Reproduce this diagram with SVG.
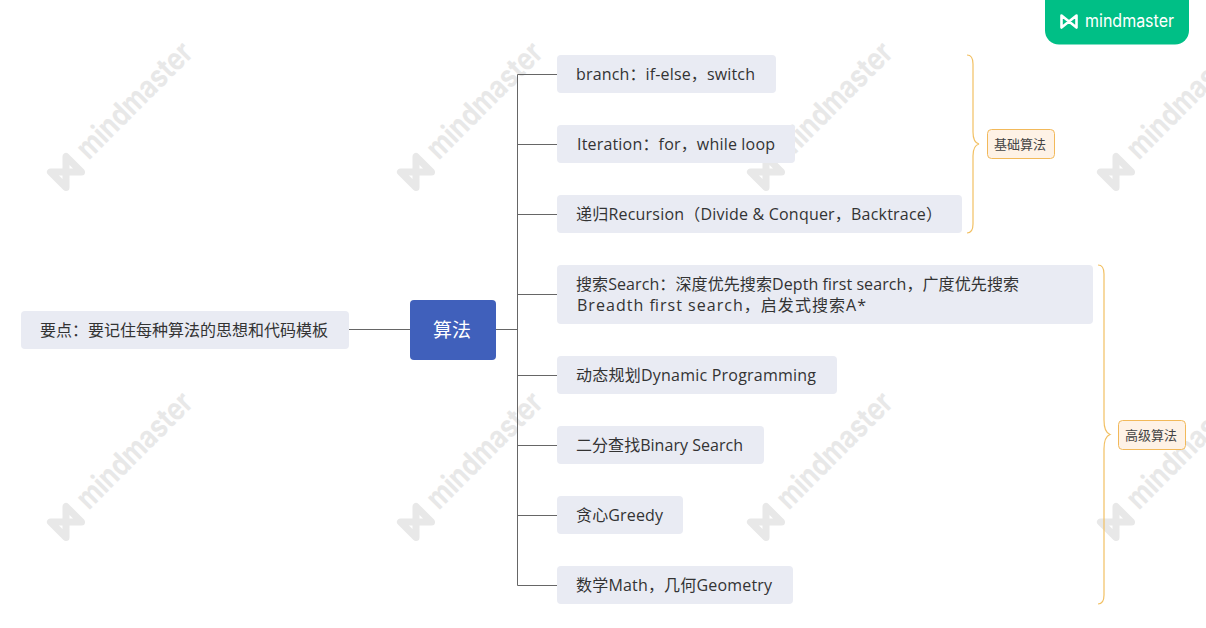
<svg xmlns="http://www.w3.org/2000/svg" width="1206" height="628" viewBox="0 0 1206 628">
<style>
.n{fill:#e9ebf3}
.t{font-family:"Open Sans","Noto Sans CJK SC","Liberation Sans",sans-serif;font-size:16px;fill:#333}
.c{fill:none;stroke:#666;stroke-width:1}
.b{fill:none;stroke:#f2c063;stroke-width:1.2}
.l{fill:#fef2e6;stroke:#f2b95a;stroke-width:1}
.s{font-family:"Noto Sans CJK SC","Liberation Sans",sans-serif;font-size:13px;fill:#444}
.w{font-family:"Inter","Liberation Sans",sans-serif;font-size:31px;font-weight:700;fill:#e8e8e8}
</style>
<defs>
<g id="wm">
<path d="M-11,-11 L11,11 V-11 L-11,11 Z" fill="none" stroke="#e8e8e8" stroke-width="7" stroke-linejoin="round"/>
<text class="w" x="24" y="8" textLength="150" lengthAdjust="spacingAndGlyphs">mindmaster</text>
</g>
</defs>
<g id="watermarks">
<use href="#wm" transform="translate(66,172) rotate(-45)"/>
<use href="#wm" transform="translate(416,172) rotate(-45)"/>
<use href="#wm" transform="translate(766,172) rotate(-45)"/>
<use href="#wm" transform="translate(1116,172) rotate(-45)"/>
<use href="#wm" transform="translate(66,522) rotate(-45)"/>
<use href="#wm" transform="translate(416,522) rotate(-45)"/>
<use href="#wm" transform="translate(766,522) rotate(-45)"/>
<use href="#wm" transform="translate(1116,522) rotate(-45)"/>
</g>
<g id="badge">
<rect x="1045" y="-14" width="144" height="58.500" rx="14" fill="#00bf86"/>
<path d="M1061.500,15.500 L1076.500,27.500 V15.500 L1061.500,27.500 Z" fill="none" stroke="#fff" stroke-width="2.600" stroke-linejoin="round"/>
<text x="1085" y="27" font-family="Inter,'Liberation Sans',sans-serif" font-size="18" fill="#fff" textLength="89" lengthAdjust="spacingAndGlyphs">mindmaster</text>
</g>
<g id="connectors">
<path class="c" d="M349,329.500H410M496,329.500H517.500M517.500,74.500V585.500M517.500,74.500H557M517.500,144.500H557M517.500,214.500H557M517.500,294.500H557M517.500,375.500H557M517.500,445.500H557M517.500,515.500H557M517.500,585.500H557"/>
<path class="b" d="M967,55 C971,55 973,58 973,64 V132 C973,140 975,143 979,144 C975,145 973,148 973,156 V224 C973,230 971,233 967,233"/>
<path class="b" d="M1098,265 C1102,265 1104,268 1104,274 V420 C1104,429 1106,433 1110,434.500 C1106,436 1104,440 1104,449 V595 C1104,601 1102,604 1098,604"/>
</g>
<g id="n-left"><rect class="n" x="21" y="311" width="328" height="38" rx="4"/><text class="t" x="40" y="335.500">要点&#xFF1A;要记住每种算法的思想和代码模板</text></g>
<g id="n-root"><rect x="410" y="300" width="86" height="60" rx="4" fill="#4060bb"/><text x="452" y="336.500" text-anchor="middle" font-family="'Noto Sans CJK SC',sans-serif" font-size="19" fill="#fff">算法</text></g>
<g id="n-branch"><rect class="n" x="557" y="55" width="219" height="38" rx="4"/><text class="t" x="576" y="79.500" textLength="179">branch&#xFF1A;if-else&#xFF0C;switch</text></g>
<g id="n-iteration"><rect class="n" x="557" y="125" width="238" height="38" rx="4"/><text class="t" x="577" y="149.500" textLength="198">Iteration&#xFF1A;for&#xFF0C;while loop</text></g>
<g id="n-recursion"><rect class="n" x="557" y="195" width="405" height="38" rx="4"/><text class="t" x="576" y="219.500" textLength="366">递归Recursion&#xFF08;Divide &amp; Conquer&#xFF0C;Backtrace&#xFF09;</text></g>
<g id="n-search"><rect class="n" x="557" y="265" width="536" height="59" rx="4"/><text class="t" x="576" y="289.500" textLength="443">搜索Search&#xFF1A;深度优先搜索Depth first search&#xFF0C;广度优先搜索</text><text class="t" x="577" y="310.500" textLength="289">Breadth first search&#xFF0C;启发式搜索A*</text></g>
<g id="n-dp"><rect class="n" x="557" y="356" width="280" height="38" rx="4"/><text class="t" x="576" y="380.500" textLength="240">动态规划Dynamic Programming</text></g>
<g id="n-binary"><rect class="n" x="557" y="426" width="207" height="38" rx="4"/><text class="t" x="576" y="450.500" textLength="167">二分查找Binary Search</text></g>
<g id="n-greedy"><rect class="n" x="557" y="496" width="126" height="38" rx="4"/><text class="t" x="576" y="520.500" textLength="87">贪心Greedy</text></g>
<g id="n-math"><rect class="n" x="557" y="566" width="236" height="38" rx="4"/><text class="t" x="576" y="590.500" textLength="196">数学Math&#xFF0C;几何Geometry</text></g>
<g id="n-basic"><rect class="l" x="987.500" y="129.500" width="67" height="29" rx="4"/><text class="s" x="994" y="149">基础算法</text></g>
<g id="n-advanced"><rect class="l" x="1118.500" y="420.500" width="67" height="29" rx="4"/><text class="s" x="1125" y="440">高级算法</text></g>
</svg>
